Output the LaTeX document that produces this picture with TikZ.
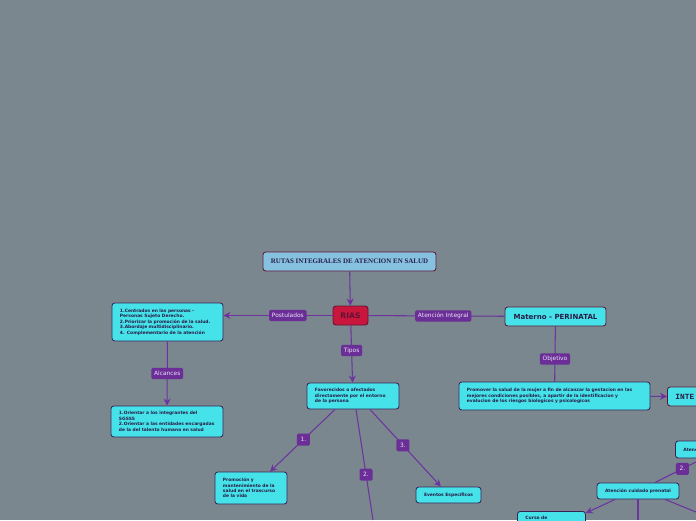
\documentclass[tikz,border=0pt]{standalone}
\usepackage{fontspec}
\setmainfont{DejaVu Sans}
\newfontfamily\titlefont{Liberation Serif}
\newfontfamily\capsfont{Liberation Mono}
\usetikzlibrary{arrows.meta, positioning}

\definecolor{bgcol}{RGB}{123,135,143}
\definecolor{cyanfill}{RGB}{70,226,233}
\definecolor{boxline}{RGB}{58,34,84}
\definecolor{darkred}{RGB}{96,20,52}
\definecolor{lblfill}{RGB}{106,46,150}
\definecolor{lbltext}{RGB}{236,226,250}
\definecolor{wire}{RGB}{108,52,158}
\definecolor{titlefill}{RGB}{134,194,224}
\definecolor{riasfill}{RGB}{200,22,60}
\definecolor{boxtext}{RGB}{40,28,70}

\begin{document}
\begin{tikzpicture}[
    x=0.025cm, y=-0.025cm,
    box/.style={rectangle, draw=boxline, fill=cyanfill, rounded corners=2pt, line width=0.6pt, align=left, text=boxtext, inner xsep=0.2cm, font=\fontsize{3.15}{3.9}\selectfont\bfseries},
    cbox/.style={box, align=center, inner xsep=0.1cm},
    lbl/.style={rectangle, fill=lblfill, text=lbltext, rounded corners=1pt, inner xsep=2pt, inner ysep=1pt, minimum height=0.28cm, font=\fontsize{4.2}{5}\selectfont},
    num/.style={lbl, minimum width=0.325cm, minimum height=0.3cm},
    line/.style={draw=wire, line width=0.75pt},
    arrow/.style={line, -{Stealth[length=5pt, width=5pt]}},
]

\useasboundingbox (0,0) rectangle (696,520);
\fill[bgcol] (0,0) rectangle (696,520);
\clip (0,0) rectangle (696,520);

% ===== CENTRE =====
\node[rectangle, draw=darkred, fill=titlefill, rounded corners=2pt, line width=0.6pt, text=boxtext, minimum width=4.325cm, minimum height=0.475cm, font=\titlefont\bfseries\fontsize{4.95}{5.5}\selectfont] (title) at (349.5,261.5) {RUTAS INTEGRALES DE ATENCION EN SALUD};
\node[rectangle, draw=darkred, fill=riasfill, rounded corners=2pt, line width=0.6pt, text=darkred, minimum width=0.875cm, minimum height=0.475cm, font=\bfseries\fontsize{5.4}{6}\selectfont] (rias) at (350.5,315.5) {RIAS};

\draw[arrow] (title) -- (rias);

% ===== POSTULADOS / ALCANCES =====
\node[box, text width=2.375cm, minimum height=0.95cm] (postbox) at (167.5,322) {1.Centrados en las personas -\\Personas Sujeto Derecho.\\2.Priorizar la promoción de la salud.\\3.Abordaje multidisciplinario.\\4. Complementario de la atención};
\node[box, text width=2.4cm, minimum height=0.775cm] (alcbox) at (167,421.5) {1.Orientar a los integrantes del\\SGSSS\\2.Orientar a las entidades encargadas\\de la del talento humano en salud};

\draw[arrow] (rias.west) -- node[lbl, pos=0.41] (postulados) {Postulados} (rias.west -| postbox.east);
\draw[arrow] (postbox) -- node[lbl, pos=0.5] (alcances) {Alcances} (alcbox);

% ===== TIPOS =====
\node[box, text width=1.9cm, minimum height=0.65cm] (tipobox) at (353,396) {Favorecidos o afectados\\directamente por el entorno\\de la persona};
\node[box, text width=1.4cm, minimum height=0.8cm] (prom) at (251,488) {Promoción y\\mantenimiento de la\\salud en el trascurso\\de la vida};
\node[cbox, minimum width=1.625cm, minimum height=0.4cm] (eventos) at (448.5,495) {Eventos Específicos};
\coordinate (tipo2end) at (373,520);

\draw[arrow] (rias) -- node[lbl, pos=0.44] (tipos) {Tipos} (tipobox);
\draw[arrow] ([xshift=-0.45cm]tipobox.south) -- node[num, pos=0.485] (n1) {1.} ([xshift=0.475cm]prom.north);
\draw[line] ([xshift=0.075cm]tipobox.south) -- node[num, pos=0.59] (n2) {2.} (tipo2end);
\draw[arrow] ([xshift=0.425cm]tipobox.south) -- node[num, pos=0.465] (n3) {3.} ([xshift=-0.19cm]eventos.north);

% ===== MATERNO - PERINATAL =====
\node[rectangle, draw=darkred, fill=cyanfill, rounded corners=2pt, line width=0.6pt, text=boxtext, minimum width=2.525cm, minimum height=0.475cm, font=\bfseries\fontsize{5}{6}\selectfont] (materno) at (555.5,316.5) {Materno - PERINATAL};
\node[box, text width=4.375cm, minimum height=0.7cm] (objbox) at (554.5,396) {Promover la salud de la mujer a fin de alcanzar la gestacion en las\\mejores condiciones posibles, a apartir de la identificacion y\\evalucion de los riesgos biologicos y psicologicos};
\node[rectangle, draw=darkred, fill=cyanfill, rounded corners=2pt, line width=0.6pt, text=boxtext, anchor=west, minimum width=2cm, minimum height=0.475cm, text width=1.6cm, align=left, inner xsep=0.2cm, font=\capsfont\bfseries\fontsize{5.6}{6}\selectfont] (inte) at (667,396.5) {INTE};

\draw[line] (rias) -- node[lbl, pos=0.55] (atint) {Atención Integral} (materno);
\draw[line] (materno) -- node[lbl, pos=0.59] (objetivo) {Objetivo} (objbox);
\draw[arrow] (objbox) -- (inte);

% ===== ATENCION CUIDADO PRENATAL =====
\node[box, anchor=west, minimum width=1.5cm, minimum height=0.425cm, text width=1.1cm] (atenc) at (675,449.5) {Atenc};
\node[cbox, minimum width=2.05cm, minimum height=0.4cm] (cuidado) at (638,491) {Atención cuidado prenatal};
\node[box, anchor=north west, minimum width=1.7cm, text width=1.3cm, text depth=0.5cm] (curso) at (517,511) {Curso de};
\coordinate (upright) at (696,462);
\coordinate (down) at (638,520);
\coordinate (downright) at (696,512);

\draw[line] (upright) -- node[num, pos=0.33] (n2b) {2.} ([xshift=0.425cm]cuidado.north);
\draw[arrow] ([xshift=-0.575cm]cuidado.south) -- ([yshift=-0.05cm]curso.north east);
\draw[line] (cuidado) -- (down);
\draw[line] ([xshift=0.675cm]cuidado.south) -- (downright);

\end{tikzpicture}
\end{document}
